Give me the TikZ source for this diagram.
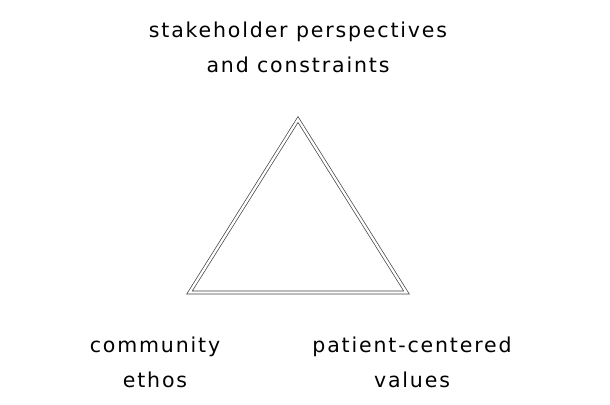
\documentclass[tikz,border=0pt]{standalone}
\usepackage{fontspec}
\setmainfont{DejaVu Sans}[LetterSpace=9]
\usetikzlibrary{positioning}
\tikzset {
  % corner labels of the triangle
  corner label/.style = {
    align = center,
    inner sep = 0,
    anchor = base,
    font = \fontsize{20.5}{35}\selectfont
  },
  % thin double outline
  frame line/.style = {
    draw = black!75,
    line width = 0.7pt,
    double = white,
    double distance = 2.3pt,
    line join = miter
  }
}

\begin{document}
\begin{tikzpicture}[x=1pt, y=-1pt]
    \useasboundingbox (0,0) rectangle (610,404);
    \coordinate (apex) at (298,119.5);
    \coordinate (base-left) at (189.5,292.5);
    \coordinate (base-right) at (406.5,292.5);

    \node[corner label] (stakeholder) at (298,72.5)
      {stakeholder perspectives\\and constraints};
    \node[corner label] (community) at (155,387.5)
      {community\\ethos};
    \node[corner label] (patient) at (412,387.5)
      {patient-centered\\values};

    \draw[frame line] (apex)
    -- (base-right)
    -- (base-left)
    -- cycle;
\end{tikzpicture}
\end{document}
